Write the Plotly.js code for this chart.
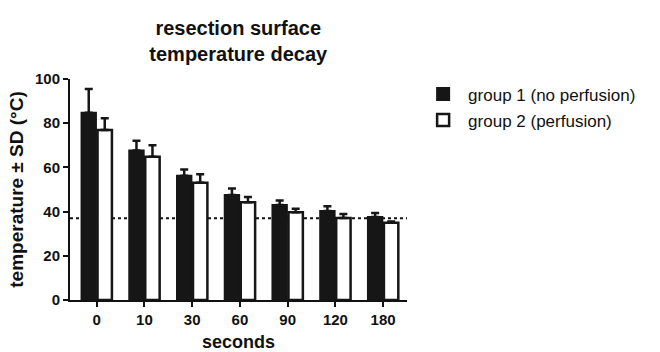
<!DOCTYPE html>
<html>
<head>
<meta charset="utf-8">
<script src="https://cdn.plot.ly/plotly-3.0.1.min.js"></script>
<style>html,body{margin:0;padding:0;background:#fff;}#chart{width:660px;height:352px;}</style>
</head>
<body>
<div id="chart"></div>
<script>
const categories = ['0', '10', '30', '60', '90', '120', '180'];
const group1Mean = [84.7, 67.6, 56.2, 47.5, 43.0, 40.3, 37.6];
const group1SD   = [10.8, 4.5, 2.9, 3.0, 2.0, 2.1, 1.8];
const group2Mean = [76.9, 64.8, 53.1, 44.2, 39.7, 37.1, 35.0];
const group2SD   = [5.3, 5.2, 3.8, 2.4, 1.6, 1.8, 0.5];
const bodyTemp = 37;

const zeros = categories.map(() => 0);
const font = 'Liberation Sans, Arial, sans-serif';

const traces = [
  {
    type: 'bar', name: 'group 1 (no perfusion)', legendgroup: 'g1', x: categories, y: group1Mean,
    marker: {color: '#161616', line: {color: '#161616', width: 2}},
    error_y: {type: 'data', symmetric: false, array: group1SD, arrayminus: zeros,
              color: '#161616', thickness: 2.5, width: 4}
  },
  {
    type: 'bar', name: 'group 2 (perfusion)', legendgroup: 'g2', x: categories, y: group2Mean,
    marker: {color: '#ffffff', line: {color: '#161616', width: 2.5}},
    error_y: {type: 'data', symmetric: false, array: group2SD, arrayminus: zeros,
              color: '#161616', thickness: 2.5, width: 4}
  }
];

const layout = {
  width: 660, height: 352,
  margin: {l: 70, r: 253, t: 79, b: 52},
  paper_bgcolor: '#fff', plot_bgcolor: '#fff',
  font: {family: font, color: '#111'},
  title: {text: '<b>resection surface<br>temperature decay</b>', x: 0.361, xanchor: 'center',
          y: 0.9, yanchor: 'top', font: {size: 20, family: font, color: '#111'}},
  barmode: 'group', bargap: 0.33, bargroupgap: 0.1,
  xaxis: {
    type: 'category', range: [-0.56, 6.5], showgrid: false, zeroline: false,
    showline: true, linecolor: '#111', linewidth: 2,
    ticks: 'outside', ticklen: 5, tickwidth: 2, tickcolor: '#111',
    tickfont: {size: 15, family: font, color: '#111', weight: 'bold'},
    title: {text: '<b>seconds</b>', font: {size: 18, family: font, color: '#111'}, standoff: 9}
  },
  yaxis: {
    range: [0, 100], dtick: 20, showgrid: false, zeroline: false,
    showline: true, linecolor: '#111', linewidth: 2,
    ticks: 'outside', ticklen: 5, tickwidth: 2, tickcolor: '#111',
    tickfont: {size: 15, family: font, color: '#111', weight: 'bold'},
    title: {text: '<b>temperature ± SD (°C)</b>', font: {size: 19, family: font, color: '#111'}, standoff: 6}
  },
  shapes: [{
    type: 'line', xref: 'paper', x0: 0, x1: 1, yref: 'y', y0: bodyTemp, y1: bodyTemp,
    line: {color: '#111', width: 2, dash: 'dot'}, layer: 'below'
  }],
  legend: {
    x: 1.033, xanchor: 'left', y: 1.012, yanchor: 'top',
    font: {size: 17, family: font, color: '#111'},
    itemwidth: 40, tracegroupgap: 1, traceorder: 'grouped'
  },
  showlegend: true
};

Plotly.newPlot('chart', traces, layout, {displayModeBar: false, staticPlot: true});
</script>
</body>
</html>
